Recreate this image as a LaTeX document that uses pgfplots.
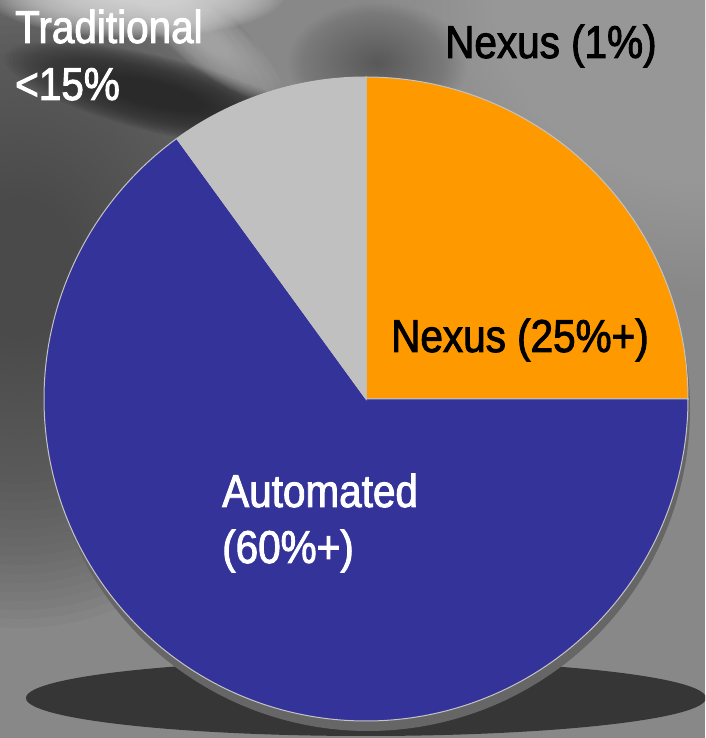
\documentclass[border=0pt]{standalone}
\usepackage{fontspec}
\setmainfont{Liberation Sans}[FakeStretch=0.88,FakeBold=2]
\usepackage{pgfplots}
\pgfplotsset{compat=1.18}
\usepackage{pgfplotstable}
\definecolor{nexus}{HTML}{FF9900}
\definecolor{autom}{HTML}{333399}
\definecolor{trad}{HTML}{C0C0C0}
\definecolor{edge}{HTML}{C4C4C4}
\definecolor{pieshadow}{HTML}{666666}
\definecolor{floorshadow}{HTML}{363636}
\definecolor{bg}{HTML}{888888}
\definecolor{darkleft}{HTML}{4A4A4A}
\definecolor{darkband}{HTML}{2A2A2A}
\definecolor{lightspot}{HTML}{DADADA}
\definecolor{lightbeam}{HTML}{B4B4B4}
\definecolor{lightright}{HTML}{AAAAAA}
\definecolor{darktop}{HTML}{505050}

\pgfplotstableread{
label value
Nexus 25
Automated 65
Traditional 10
}\piedata

\begin{document}
\begin{tikzpicture}
\pgfplotstablegetelem{0}{value}\of\piedata \let\vN\pgfplotsretval
\pgfplotstablegetelem{1}{value}\of\piedata \let\vA\pgfplotsretval
\pgfplotstablegetelem{2}{value}\of\piedata \let\vT\pgfplotsretval
\pgfmathsetmacro\aA{90-3.6*\vN}
\pgfmathsetmacro\aB{\aA-3.6*\vA}
\pgfmathsetmacro\aC{\aB-3.6*\vT}
% background (y measured from the bottom, 738 = top edge)
\begin{scope}[x=1pt,y=1pt]
\clip (0,0) rectangle (705,738);
\fill[bg] (0,0) rectangle (705,738);
\foreach \k in {1,...,40}{
  \fill[lightright, opacity=0.05] (705,748) ellipse [x radius=330*\k/40, y radius=300*\k/40];
}
\foreach \k in {1,...,40}{
  \fill[darkleft, opacity=0.06] (20,470) ellipse [x radius=300*\k/40, y radius=360*\k/40];
}
\foreach \k in {1,...,40}{
  \fill[darktop, opacity=0.025] (378,675) ellipse [x radius=90*\k/40, y radius=60*\k/40];
}
\foreach \k in {1,...,40}{
  \fill[darkband, opacity=0.07, rotate around={-14:(160,643)}] (160,643) ellipse [x radius=160*\k/40, y radius=38*\k/40];
}
\foreach \k in {1,...,40}{
  \fill[lightbeam, opacity=0.05, rotate around={-38:(205,700)}] (205,700) ellipse [x radius=95*\k/40, y radius=30*\k/40];
}
\foreach \k in {1,...,40}{
  \fill[lightspot, opacity=0.08] (135,745) ellipse [x radius=150*\k/40, y radius=45*\k/40];
}
\end{scope}
\begin{axis}[name=ax, at={(0,0)}, anchor=south west, scale only axis,
  width=705pt, height=738pt, xmin=0, xmax=705, ymin=-738, ymax=0, hide axis]
\fill[floorshadow] (axis cs:366,-698) ellipse [x radius=340, y radius=38];
\addplot[draw=none, fill=pieshadow, domain=0:360, samples=361]
  ({368+322*cos(x)}, {-409+322*sin(x)}) -- cycle;
\addplot[draw=edge, line width=1pt, fill=nexus, domain=\aA:90, samples=91]
  ({366+322*cos(x)}, {-399+322*sin(x)}) -- (axis cs:366,-399) -- cycle;
\addplot[draw=edge, line width=1pt, fill=autom, domain=\aB:\aA, samples=235]
  ({366+322*cos(x)}, {-399+322*sin(x)}) -- (axis cs:366,-399) -- cycle;
\addplot[draw=trad, line width=1pt, fill=trad, domain=\aC:\aB, samples=37]
  ({366+322*cos(x)}, {-399+322*sin(x)}) -- (axis cs:366,-399) -- cycle;
\node[anchor=base west, inner sep=0, text=white, font=\fontsize{46}{55}\selectfont] at (axis cs:15,-43) {Traditional};
\node[anchor=base west, inner sep=0, text=white, font=\fontsize{46}{55}\selectfont] at (axis cs:15,-100) {<15\%};
\node[anchor=base west, inner sep=0, text=black, font=\fontsize{46}{55}\selectfont] at (axis cs:445,-58) {Nexus (1\%)};
\node[anchor=base west, inner sep=0, text=black, font=\fontsize{46}{55}\selectfont] at (axis cs:391,-352) {Nexus (25\%+)};
\node[anchor=base west, inner sep=0, text=white, font=\fontsize{46}{55}\selectfont] at (axis cs:222,-507) {Automated};
\node[anchor=base west, inner sep=0, text=white, font=\fontsize{46}{55}\selectfont] at (axis cs:222,-563) {(60\%+)};
\end{axis}
\pgfresetboundingbox
\path[use as bounding box] (0,0) rectangle (705pt,738pt);
\end{tikzpicture}
\end{document}
